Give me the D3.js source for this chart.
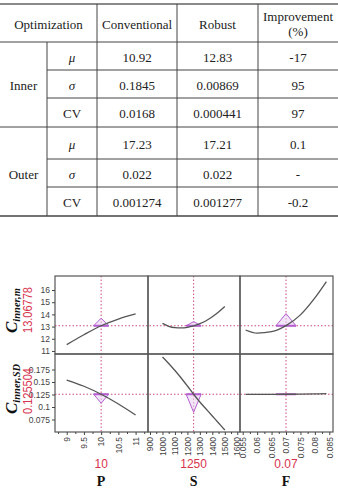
<!DOCTYPE html>
<html>
<head>
<meta charset="utf-8">
<script src="https://cdn.jsdelivr.net/npm/d3@7"></script>
<style>
  body { margin: 0; background: #fff; }
  svg { display: block; }
</style>
</head>
<body>
<div id="chart"></div>
<script>
// ---- table data ----
const headerCols = ["Optimization", "Conventional", "Robust"];
const headerLast = ["Improvement", "(%)"];
const groups = ["Inner", "Outer"];
const stats = ["μ", "σ", "CV"];
const conventional = ["10.92", "0.1845", "0.0168", "17.23", "0.022", "0.001274"];
const robust = ["12.83", "0.00869", "0.000441", "17.21", "0.022", "0.001277"];
const improvement = ["-17", "95", "97", "0.1", "-", "-0.2"];

// ---- profiler data ----
const factors = ["P", "S", "F"];
const factorSetting = [10, 1250, 0.07];
const factorLabel = ["10", "1250", "0.07"];
const responses = ["inner,m", "inner,SD"];
const responseValue = [13.06778, 0.125504];
const responseLabel = ["13.06778", "0.125504"];

const pDomain = [8.66, 11.36];
const sDomain = [884, 1622];
const fDomain = [0.05406, 0.08628];
const meanDomain = [10.75, 17.15];
const sdDomain = [0.05, 0.206];

const pTicks = [9, 9.5, 10, 10.5, 11];
const pTickLabels = ["9", "9.5", "10", "10.5", "11"];
const sTicks = [900, 1000, 1100, 1200, 1300, 1400, 1500, 1600];
const sTickLabels = ["900", "1000", "1100", "1200", "1300", "1400", "1500", "1600"];
const fTicks = [0.055, 0.06, 0.065, 0.07, 0.075, 0.08, 0.085];
const fTickLabels = ["0.055", "0.06", "0.065", "0.07", "0.075", "0.08", "0.085"];
const meanTicks = [11, 12, 13, 14, 15, 16];
const meanTickLabels = ["11", "12", "13", "14", "15", "16"];
const sdTicks = [0.075, 0.1, 0.125, 0.15, 0.175];
const sdTickLabels = ["0.075", "0.1", "0.125", "0.15", "0.175"];

const pLevels = [9, 9.5, 10, 10.5, 11];
const sLevels = [1000, 1050, 1100, 1150, 1200, 1250, 1300, 1350, 1400, 1450, 1500];
const fLevels = [0.056, 0.06, 0.065, 0.07, 0.075, 0.08, 0.084];

const meanByP = [11.52, 12.33, 13.07, 13.62, 14.04];
const meanByS = [13.26, 13.02, 12.91, 12.89, 12.94, 13.06, 13.24, 13.48, 13.8, 14.19, 14.64];
const meanByF = [12.72, 12.46, 12.58, 13.08, 13.96, 15.35, 16.69];
const sdByP = [0.154, 0.1415, 0.1255, 0.106, 0.084];
const sdByS = [0.2, 0.187, 0.173, 0.158, 0.142, 0.1255, 0.11, 0.096, 0.082, 0.068, 0.054];
const sdByF = [0.1251, 0.1252, 0.1253, 0.1255, 0.1258, 0.1262, 0.1267];

// sensitivity indicator heights (response units, signed)
const meanSensitivity = [0.62, 0.34, 1.0];
const sdSensitivity = [-0.018, -0.036, 0];

// ---- drawing ----
const width = 338, height = 497;
const serif = "'Liberation Serif', 'Times New Roman', serif";
const sans = "'Liberation Sans', Arial, sans-serif";
const red = "#d8344f";

const svg = d3.select("#chart")
    .append("svg")
    .attr("width", width)
    .attr("height", height);

// table layout
const colEdges = [0, 47, 97, 177, 258, 338];
const rowEdges = [42, 70, 98, 127, 159, 187, 216];
const tableTop = 4;
const table = svg.append("g")
    .style("font-family", serif)
    .style("font-size", "13px")
    .attr("fill", "#222");

// horizontal rules
table.append("line")
    .attr("x1", 0).attr("x2", width)
    .attr("y1", tableTop).attr("y2", tableTop)
    .attr("stroke", "#8a8a8a").attr("stroke-width", 2);
rowEdges.forEach((y, i) => {
    const full = i === 0 || i === 3 || i === rowEdges.length - 1;
    table.append("line")
        .attr("x1", full ? 0 : colEdges[1]).attr("x2", width)
        .attr("y1", y).attr("y2", y)
        .attr("stroke", "#444")
        .attr("stroke-width", i === rowEdges.length - 1 ? 1.3 : 1);
});
// vertical rules
table.append("line")
    .attr("x1", colEdges[1]).attr("x2", colEdges[1])
    .attr("y1", rowEdges[0]).attr("y2", rowEdges[6])
    .attr("stroke", "#444");
[2, 3, 4].forEach(c => {
    table.append("line")
        .attr("x1", colEdges[c]).attr("x2", colEdges[c])
        .attr("y1", tableTop).attr("y2", rowEdges[6])
        .attr("stroke", "#444");
});

// header
const headerY = (tableTop + rowEdges[0]) / 2 + 1;
const headerX = [(colEdges[0] + colEdges[2]) / 2, (colEdges[2] + colEdges[3]) / 2, (colEdges[3] + colEdges[4]) / 2];
headerCols.forEach((t, i) => {
    table.append("text")
        .attr("x", headerX[i]).attr("y", headerY)
        .attr("text-anchor", "middle")
        .attr("dominant-baseline", "central")
        .text(t);
});
headerLast.forEach((t, i) => {
    table.append("text")
        .attr("x", (colEdges[4] + colEdges[5]) / 2)
        .attr("y", headerY - 7.5 + i * 15)
        .attr("text-anchor", "middle")
        .attr("dominant-baseline", "central")
        .text(t);
});

// body
const colMid = c => (colEdges[c] + colEdges[c + 1]) / 2;
groups.forEach((g, gi) => {
    const mid = (rowEdges[gi * 3 + 1] + rowEdges[gi * 3 + 2]) / 2 + 1;
    table.append("text")
        .attr("x", colMid(0)).attr("y", mid)
        .attr("text-anchor", "middle")
        .attr("dominant-baseline", "central")
        .text(g);
});
conventional.forEach((v, i) => {
    const y = (rowEdges[i] + rowEdges[i + 1]) / 2 + 1;
    const cells = [stats[i % 3], v, robust[i], improvement[i]];
    cells.forEach((t, k) => {
        table.append("text")
            .attr("x", colMid(k + 1)).attr("y", y)
            .attr("text-anchor", "middle")
            .attr("dominant-baseline", "central")
            .style("font-style", k === 0 && i % 3 < 2 ? "italic" : "normal")
            .text(t);
    });
});

// profiler layout
const panelX = [55, 148, 240, 333];
const panelY = [276, 354, 432];

const xScales = [pDomain, sDomain, fDomain].map((d, i) =>
    d3.scaleLinear().domain(d).range([panelX[i], panelX[i + 1]]));
const yScales = [meanDomain, sdDomain].map((d, i) =>
    d3.scaleLinear().domain(d).range([panelY[i + 1], panelY[i]]));

const xTicks = [pTicks, sTicks, fTicks];
const xTickLabels = [pTickLabels, sTickLabels, fTickLabels];
const yTicks = [meanTicks, sdTicks];
const yTickLabels = [meanTickLabels, sdTickLabels];
const levels = [pLevels, sLevels, fLevels];
const curves = [[meanByP, meanByS, meanByF], [sdByP, sdByS, sdByF]];
const sensitivity = [meanSensitivity, sdSensitivity];
const triHalf = [7.5, 7.5, 10];

const plot = svg.append("g");

// dotted reference lines
factorSetting.forEach((v, c) => {
    const x = xScales[c](v);
    plot.append("line")
        .attr("x1", x).attr("x2", x)
        .attr("y1", panelY[0]).attr("y2", panelY[2])
        .attr("stroke", "#cc4a80").attr("stroke-width", 1)
        .attr("stroke-dasharray", "1.5,2");
});
responseValue.forEach((v, r) => {
    const y = yScales[r](v);
    plot.append("line")
        .attr("x1", panelX[0]).attr("x2", panelX[3])
        .attr("y1", y).attr("y2", y)
        .attr("stroke", "#cc4a80").attr("stroke-width", 1)
        .attr("stroke-dasharray", "1.5,2");
});

// sensitivity triangles
responseValue.forEach((rv, r) => {
    factorSetting.forEach((fv, c) => {
        const x = xScales[c](fv);
        const yb = yScales[r](rv);
        const yt = yScales[r](rv + sensitivity[r][c]);
        const h = triHalf[c];
        if (sensitivity[r][c] !== 0) {
            plot.append("path")
                .attr("d", `M${x - h},${yb}L${x + h},${yb}L${x},${yt}Z`)
                .attr("fill", "#e9d3f2").attr("fill-opacity", 0.6)
                .attr("stroke", "#b460d0").attr("stroke-width", 1);
        }
        plot.append("line")
            .attr("x1", x - h).attr("x2", x + h)
            .attr("y1", yb).attr("y2", yb)
            .attr("stroke", "#b460d0").attr("stroke-width", 2);
    });
});

// profile curves
curves.forEach((row, r) => {
    row.forEach((vals, c) => {
        const line = d3.line()
            .x((d, i) => xScales[c](levels[c][i]))
            .y(d => yScales[r](d))
            .curve(d3.curveMonotoneX);
        plot.append("path")
            .attr("d", line(vals))
            .attr("fill", "none")
            .attr("stroke", "#555")
            .attr("stroke-width", 1.3);
    });
});

// panel frames
[0, 1].forEach(r => {
    [0, 1, 2].forEach(c => {
        plot.append("rect")
            .attr("x", panelX[c]).attr("y", panelY[r])
            .attr("width", panelX[c + 1] - panelX[c])
            .attr("height", panelY[r + 1] - panelY[r])
            .attr("fill", "none")
            .attr("stroke", "#555").attr("stroke-width", 1.2);
    });
});

// y axes
yScales.forEach((ys, r) => {
    const g = plot.append("g")
        .attr("transform", `translate(${panelX[0]},0)`)
        .call(d3.axisLeft(ys)
            .tickValues(yTicks[r])
            .tickFormat((d, i) => yTickLabels[r][i])
            .tickSize(3)
            .tickPadding(2));
    g.select(".domain").remove();
    g.selectAll("line").attr("stroke", "#444");
    g.selectAll("text")
        .style("font-family", sans)
        .style("font-size", "8.5px")
        .attr("fill", "#444");
});

// x axes
xScales.forEach((xs, c) => {
    const ticks = xTicks[c];
    const step = ticks[1] - ticks[0];
    const minor = [ticks[0] - step / 2].concat(ticks.map(t => t + step / 2))
        .filter(t => t > xs.domain()[0] && t < xs.domain()[1]);
    const gm = plot.append("g")
        .attr("transform", `translate(0,${panelY[2]})`)
        .call(d3.axisBottom(xs).tickValues(minor).tickFormat("").tickSize(2));
    gm.select(".domain").remove();
    gm.selectAll("line").attr("stroke", "#444");

    const g = plot.append("g")
        .attr("transform", `translate(0,${panelY[2]})`)
        .call(d3.axisBottom(xs)
            .tickValues(ticks)
            .tickFormat((d, i) => xTickLabels[c][i])
            .tickSize(3));
    g.select(".domain").remove();
    g.selectAll("line").attr("stroke", "#444");
    g.selectAll("text")
        .attr("transform", "rotate(-90)")
        .attr("x", -5).attr("y", 0).attr("dy", "0.32em")
        .attr("text-anchor", "end")
        .style("font-family", sans)
        .style("font-size", "8.5px")
        .attr("fill", "#444");

    // factor setting and name
    const xm = xs(factorSetting[c]);
    plot.append("text")
        .attr("x", xm).attr("y", 468)
        .attr("text-anchor", "middle")
        .style("font-family", sans).style("font-size", "12px")
        .attr("fill", red)
        .text(factorLabel[c]);
    plot.append("text")
        .attr("x", xm).attr("y", 485.5)
        .attr("text-anchor", "middle")
        .style("font-family", serif).style("font-size", "14px")
        .style("font-weight", "bold")
        .attr("fill", "#111")
        .text(factors[c]);
});

// response titles
responses.forEach((name, r) => {
    const y0 = panelY[r + 1] - (r === 0 ? 21 : 18);
    const t = plot.append("text")
        .attr("transform", `translate(17,${y0}) rotate(-90)`)
        .style("font-family", serif)
        .style("font-weight", "bold").style("font-style", "italic")
        .attr("fill", "#111");
    t.append("tspan").style("font-size", "17px").text("C");
    t.append("tspan").style("font-size", "10.5px").attr("dy", 3).text(name);

    plot.append("text")
        .attr("transform", `translate(31.5,${y0}) rotate(-90)`)
        .style("font-family", sans)
        .style("font-size", "13px")
        .attr("textLength", 46)
        .attr("lengthAdjust", "spacingAndGlyphs")
        .attr("fill", red)
        .text(responseLabel[r]);
});
</script>
</body>
</html>
